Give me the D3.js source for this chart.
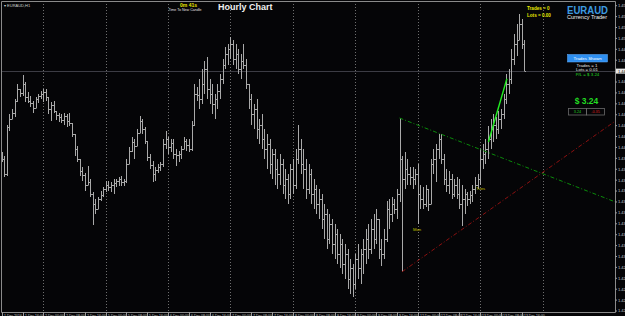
<!DOCTYPE html>
<html>
<head>
<meta charset="utf-8">
<script src="https://cdn.jsdelivr.net/npm/d3@7/dist/d3.min.js"></script>
<style>
html, body { margin: 0; padding: 0; background: #050507; overflow: hidden; }
svg { display: block; }
</style>
</head>
<body>
<div id="chart"></div>
<script>
// EURAUD H1 bars (1 Dec 2016 08:00 onwards)
const highs = [1.4396,1.4392,1.4421,1.4431,1.4435,1.4444,1.4458,1.4454,1.4466,1.4460,
1.4451,1.4447,1.4443,1.4446,1.4449,1.4452,1.4454,1.4454,1.4444,1.4442,
1.4443,1.4433,1.4432,1.4431,1.4432,1.4431,1.4432,1.4422,1.4412,1.4401,
1.4389,1.4382,1.4377,1.4383,1.4371,1.4359,1.4353,1.4355,1.4360,1.4364,
1.4369,1.4369,1.4368,1.4371,1.4371,1.4373,1.4374,1.4371,1.4389,1.4400,
1.4410,1.4408,1.4417,1.4429,1.4426,1.4419,1.4403,1.4394,1.4388,1.4382,
1.4385,1.4387,1.4408,1.4415,1.4410,1.4408,1.4408,1.4399,1.4397,1.4401,
1.4410,1.4408,1.4408,1.4424,1.4458,1.4455,1.4463,1.4472,1.4479,1.4483,
1.4463,1.4458,1.4449,1.4458,1.4467,1.4481,1.4492,1.4495,1.4501,1.4499,
1.4495,1.4490,1.4486,1.4495,1.4481,1.4458,1.4449,1.4440,1.4444,1.4426,
1.4431,1.4417,1.4412,1.4408,1.4399,1.4399,1.4389,1.4394,1.4389,1.4380,
1.4376,1.4385,1.4389,1.4399,1.4421,1.4408,1.4399,1.4389,1.4385,1.4380,
1.4371,1.4366,1.4362,1.4357,1.4348,1.4344,1.4339,1.4334,1.4330,1.4325,
1.4321,1.4316,1.4311,1.4307,1.4298,1.4293,1.4302,1.4311,1.4307,1.4316,
1.4325,1.4330,1.4334,1.4339,1.4344,1.4334,1.4316,1.4325,1.4351,1.4353,
1.4355,1.4353,1.4362,1.4427,1.4392,1.4396,1.4389,1.4382,1.4382,1.4380,
1.4385,1.4366,1.4364,1.4366,1.4362,1.4389,1.4399,1.4403,1.4412,1.4412,
1.4394,1.4380,1.4378,1.4376,1.4371,1.4373,1.4371,1.4366,1.4362,1.4359,
1.4360,1.4366,1.4373,1.4376,1.4399,1.4403,1.4408,1.4420,1.4426,1.4431,
1.4428,1.4433,1.4435,1.4449,1.4467,1.4472,1.4490,1.4504,1.4513,1.4522,
1.4518,1.4499]
const lows = [1.4387,1.4373,1.4374,1.4415,1.4426,1.4428,1.4442,1.4446,1.4447,1.4442,
1.4441,1.4437,1.4432,1.4438,1.4441,1.4444,1.4442,1.4443,1.4431,1.4424,
1.4432,1.4425,1.4423,1.4422,1.4421,1.4419,1.4420,1.4410,1.4392,1.4387,
1.4374,1.4369,1.4360,1.4366,1.4355,1.4329,1.4339,1.4346,1.4351,1.4355,
1.4359,1.4360,1.4359,1.4357,1.4364,1.4365,1.4365,1.4365,1.4367,1.4385,
1.4396,1.4389,1.4401,1.4413,1.4412,1.4403,1.4388,1.4380,1.4368,1.4369,
1.4377,1.4378,1.4382,1.4399,1.4394,1.4396,1.4389,1.4383,1.4387,1.4389,
1.4399,1.4397,1.4396,1.4397,1.4420,1.4443,1.4435,1.4440,1.4449,1.4444,
1.4440,1.4431,1.4426,1.4435,1.4444,1.4458,1.4472,1.4476,1.4481,1.4476,
1.4472,1.4467,1.4463,1.4472,1.4454,1.4435,1.4421,1.4417,1.4408,1.4403,
1.4399,1.4389,1.4380,1.4376,1.4371,1.4366,1.4362,1.4366,1.4357,1.4353,
1.4348,1.4353,1.4357,1.4362,1.4385,1.4376,1.4362,1.4353,1.4357,1.4348,
1.4344,1.4339,1.4334,1.4325,1.4316,1.4307,1.4311,1.4302,1.4298,1.4293,
1.4289,1.4284,1.4279,1.4270,1.4266,1.4263,1.4270,1.4279,1.4275,1.4284,
1.4293,1.4298,1.4302,1.4307,1.4311,1.4298,1.4291,1.4298,1.4313,1.4325,
1.4332,1.4339,1.4334,1.4350,1.4286,1.4362,1.4366,1.4366,1.4362,1.4366,
1.4330,1.4344,1.4344,1.4345,1.4342,1.4353,1.4376,1.4368,1.4389,1.4385,
1.4366,1.4359,1.4357,1.4353,1.4355,1.4353,1.4344,1.4328,1.4339,1.4346,
1.4348,1.4350,1.4357,1.4362,1.4366,1.4380,1.4385,1.4389,1.4399,1.4405,
1.4408,1.4412,1.4417,1.4426,1.4440,1.4449,1.4458,1.4476,1.4484,1.4499,
1.4490,1.4470]
const closes = [1.4389,1.4376,1.4419,1.4426,1.4432,1.4443,1.4454,1.4450,1.4458,1.4446,
1.4443,1.4441,1.4436,1.4444,1.4447,1.4449,1.4451,1.4446,1.4435,1.4439,
1.4433,1.4430,1.4428,1.4425,1.4429,1.4424,1.4422,1.4412,1.4399,1.4389,
1.4378,1.4375,1.4366,1.4368,1.4357,1.4348,1.4344,1.4353,1.4356,1.4362,
1.4366,1.4364,1.4366,1.4367,1.4369,1.4371,1.4368,1.4369,1.4385,1.4397,
1.4405,1.4401,1.4413,1.4424,1.4417,1.4406,1.4391,1.4384,1.4376,1.4379,
1.4382,1.4385,1.4403,1.4408,1.4400,1.4404,1.4394,1.4393,1.4394,1.4399,
1.4406,1.4402,1.4399,1.4421,1.4449,1.4448,1.4444,1.4458,1.4472,1.4454,
1.4449,1.4440,1.4444,1.4452,1.4463,1.4476,1.4486,1.4490,1.4495,1.4481,
1.4486,1.4472,1.4479,1.4476,1.4458,1.4444,1.4431,1.4435,1.4417,1.4421,
1.4408,1.4399,1.4403,1.4385,1.4394,1.4380,1.4376,1.4385,1.4366,1.4371,
1.4357,1.4380,1.4366,1.4389,1.4399,1.4385,1.4380,1.4362,1.4376,1.4357,
1.4362,1.4348,1.4353,1.4334,1.4339,1.4316,1.4330,1.4311,1.4321,1.4302,
1.4311,1.4293,1.4302,1.4279,1.4289,1.4275,1.4298,1.4289,1.4302,1.4307,
1.4316,1.4307,1.4325,1.4316,1.4334,1.4307,1.4302,1.4316,1.4344,1.4339,
1.4348,1.4344,1.4357,1.4389,1.4371,1.4380,1.4376,1.4373,1.4371,1.4376,
1.4357,1.4353,1.4348,1.4362,1.4348,1.4385,1.4389,1.4399,1.4408,1.4389,
1.4371,1.4366,1.4371,1.4357,1.4366,1.4357,1.4348,1.4353,1.4357,1.4353,
1.4356,1.4362,1.4366,1.4371,1.4389,1.4394,1.4399,1.4408,1.4417,1.4421,
1.4417,1.4426,1.4431,1.4444,1.4458,1.4463,1.4481,1.4495,1.4499,1.4513,
1.4495,1.4470]
const opens = [1.4392].concat(closes.slice(0, -1))

const priceTicks = d3.range(0, 29).map(k => 1.4530 - k * 0.0010)
const currentPrice = 1.4470

// trendlines (bar index, price)
const greenTrend = [[153, 1.4427], [208, 1.4376]]
const redTrend = [[154, 1.4286], [208, 1.4377]]
const tradeLine = [[187.2, 1.4405], [194.3, 1.4463]]
const dayMarks = [{ text: 'Mon', i: 158.2, p: 1.4323 }, { text: 'Tues', i: 182.4, p: 1.4361 }]

const width = 625
const height = 316
const plot = { left: 1, top: 1, right: 615, bottom: 312 }

const svg = d3.create('svg')
    .attr('width', width)
    .attr('height', height)
    .attr('viewBox', [0, 0, width, height])
    .style('font-family', 'Liberation Sans, Arial, sans-serif')

svg.append('rect').attr('width', width).attr('height', height).attr('fill', '#050507')

const x = d3.scaleLinear().domain([0, 1]).range([1.7, 4.3])
const y = d3.scaleLinear().domain([1.4250, 1.4530]).range([311, 5.7])
const px = i => Math.round(x(i)) + 0.5
const py = p => Math.round(y(p)) + 0.5

// bar times, weekends skipped
const times = []
let t = new Date(2016, 11, 1, 8)
while (times.length < 230) {
    if (t.getDay() !== 0 && t.getDay() !== 6) times.push(new Date(t))
    t = new Date(t.getTime() + 3600e3)
}

/* grid: one dotted line per day */
const dayStarts = d3.range(1, times.length).filter(i => times[i].getHours() === 0 && x(i) < 560)
svg.append('g').selectAll('line')
    .data(dayStarts)
    .join('line')
    .attr('x1', px).attr('x2', px)
    .attr('y1', plot.top).attr('y2', plot.bottom)
    .attr('stroke', '#6e6e6e')
    .attr('stroke-dasharray', '1,2')

/* current price line */
svg.append('line')
    .attr('x1', plot.left).attr('x2', plot.right)
    .attr('y1', py(currentPrice)).attr('y2', py(currentPrice))
    .attr('stroke', '#3c3c44')

/* OHLC bars */
svg.append('g').selectAll('path')
    .data(closes)
    .join('path')
    .attr('fill', 'none')
    .attr('stroke', '#a9a9a9')
    .attr('stroke-width', 1)
    .attr('d', (c, i) => {
        const xi = px(i)
        const hi = Math.max(highs[i], opens[i], c)
        const lo = Math.min(lows[i], opens[i], c)
        return `M${xi},${Math.round(y(hi))}V${Math.round(y(lo))}M${xi - 1.5},${py(opens[i])}H${xi}M${xi},${py(c)}H${xi + 1.5}`
    })

/* trendlines extended to the price scale */
const extend = (pts) => {
    const [[i0, p0], [i1, p1]] = pts
    const x0 = x(i0), y0 = y(p0)
    const slope = (y(p1) - y0) / (x(i1) - x0)
    return [[x0, y0], [plot.right, y0 + slope * (plot.right - x0)]]
}
svg.append('path')
    .attr('d', d3.line()(extend(greenTrend)))
    .attr('stroke', '#0a8a0a').attr('stroke-width', 1)
    .attr('stroke-dasharray', '4,2,1,2').attr('fill', 'none')
svg.append('path')
    .attr('d', d3.line()(extend(redTrend)))
    .attr('stroke', '#8c1010').attr('stroke-width', 1)
    .attr('stroke-dasharray', '4,2,1,2').attr('fill', 'none')

svg.append('path')
    .attr('d', d3.line()(tradeLine.map(d => [x(d[0]), y(d[1])])))
    .attr('stroke', '#22ee22').attr('stroke-width', 1.4).attr('fill', 'none')

svg.append('g').selectAll('text')
    .data(dayMarks)
    .join('text')
    .attr('x', d => x(d.i)).attr('y', d => y(d.p))
    .attr('fill', '#c8c400').attr('font-size', 4.2)
    .text(d => d.text)

/* frame */
svg.append('path')
    .attr('d', `M${plot.left + 0.5},${plot.bottom + 0.5}V${plot.top + 0.5}H${plot.right + 0.5}V${plot.bottom + 0.5}H${plot.left + 0.5}`)
    .attr('fill', 'none').attr('stroke', '#8a8a8a')

/* price scale */
const ptick = svg.append('g').selectAll('g')
    .data(priceTicks)
    .join('g')
    .attr('transform', p => `translate(${plot.right},${y(p)})`)
ptick.append('line').attr('x1', 0).attr('x2', 2).attr('stroke', '#9a9a9a')
ptick.append('text').attr('x', 3).attr('dy', '0.35em')
    .attr('fill', '#c8c8c8').attr('font-size', 4)
    .text(d3.format('.4f'))

svg.append('rect')
    .attr('x', plot.right + 1).attr('y', y(currentPrice) - 2.5)
    .attr('width', 10).attr('height', 5).attr('fill', '#e8e8e8')
svg.append('text')
    .attr('x', plot.right + 3).attr('y', y(currentPrice)).attr('dy', '0.35em')
    .attr('fill', '#000').attr('font-size', 4)
    .text(d3.format('.4f')(currentPrice))

/* time scale */
const fmtFirst = d3.timeFormat('%-d %b %Y')
const fmt = d3.timeFormat('%-d %b %H:%M')
const labelIdx = d3.range(0, closes.length, 8)
const ttick = svg.append('g').selectAll('g')
    .data(labelIdx)
    .join('g')
    .attr('transform', i => `translate(${px(i)},${plot.bottom})`)
ttick.append('line').attr('y1', 0).attr('y2', 4).attr('stroke', '#9a9a9a')
ttick.append('text').attr('x', 1.5).attr('y', 4.6)
    .attr('fill', '#c8c8c8').attr('font-size', 3.5)
    .text(i => i === 0 ? fmtFirst(times[i]) : fmt(times[i]))

/* header texts */
svg.append('text').attr('x', 4).attr('y', 6.5)
    .attr('fill', '#d0d0d0').attr('font-size', 4)
    .text('▾ EURAUD,H1')

svg.append('text').attr('x', 188.5).attr('y', 7.3).attr('text-anchor', 'middle')
    .attr('fill', '#e8e800').attr('font-size', 5).attr('font-weight', 'bold')
    .text('0m 41s')
svg.append('text').attr('x', 185).attr('y', 10.5).attr('text-anchor', 'middle')
    .attr('fill', '#e0e0e0').attr('font-size', 3.6)
    .text('Time To New Candle')

svg.append('text').attr('x', 218).attr('y', 10.4)
    .attr('fill', '#f0f0f0').attr('font-size', 9).attr('font-weight', 'bold')
    .text('Hourly Chart')

/* account panel */
svg.append('text').attr('x', 527).attr('y', 9.5)
    .attr('fill', '#e8e800').attr('font-size', 4.6).attr('font-weight', 'bold')
    .text('Trades = 0')
svg.append('text').attr('x', 527).attr('y', 16.8)
    .attr('fill', '#e8e800').attr('font-size', 4.6).attr('font-weight', 'bold')
    .text('Lots = 0.00')

svg.append('text').attr('x', 567).attr('y', 13.5)
    .attr('fill', '#3d9be0').attr('font-size', 10.5).attr('font-weight', 'bold')
    .attr('textLength', 41).attr('lengthAdjust', 'spacingAndGlyphs')
    .text('EURAUD')
svg.append('text').attr('x', 567).attr('y', 19)
    .attr('fill', '#f0f0f0').attr('font-size', 5.4)
    .attr('textLength', 40).attr('lengthAdjust', 'spacingAndGlyphs')
    .text('Currency Trader')

svg.append('rect').attr('x', 567.5).attr('y', 54.5).attr('width', 40).attr('height', 7.5)
    .attr('fill', '#2e8ff0').attr('stroke', '#66b0ff').attr('stroke-width', 0.5)
svg.append('text').attr('x', 587.5).attr('y', 60).attr('text-anchor', 'middle')
    .attr('fill', '#ffffff').attr('font-size', 4.4)
    .text('Trades Shown')

svg.append('text').attr('x', 587).attr('y', 66.6).attr('text-anchor', 'middle')
    .attr('fill', '#e8e8e8').attr('font-size', 4.4)
    .text('Trades = 1')
svg.append('text').attr('x', 587).attr('y', 71.2).attr('text-anchor', 'middle')
    .attr('fill', '#e8e8e8').attr('font-size', 4.4)
    .text('Lots = 0.01')
svg.append('text').attr('x', 587.5).attr('y', 75.8).attr('text-anchor', 'middle')
    .attr('fill', '#22dd22').attr('font-size', 4.4)
    .text('P/L = $ 3.24')

svg.append('text').attr('x', 586.5).attr('y', 104).attr('text-anchor', 'middle')
    .attr('fill', '#22dd22').attr('font-size', 8.5).attr('font-weight', 'bold')
    .text('$ 3.24')

svg.append('rect').attr('x', 568.5).attr('y', 108.5).attr('width', 18).attr('height', 6.5)
    .attr('fill', 'none').attr('stroke', '#6a6a6a').attr('stroke-width', 0.8)
svg.append('rect').attr('x', 586.5).attr('y', 108.5).attr('width', 18).attr('height', 6.5)
    .attr('fill', 'none').attr('stroke', '#6a6a6a').attr('stroke-width', 0.8)
svg.append('text').attr('x', 577.5).attr('y', 113.2).attr('text-anchor', 'middle')
    .attr('fill', '#22cc22').attr('font-size', 3.8)
    .text('3.24')
svg.append('text').attr('x', 595.5).attr('y', 113.2).attr('text-anchor', 'middle')
    .attr('fill', '#dd2020').attr('font-size', 3.8)
    .text('-0.35')

document.getElementById('chart').appendChild(svg.node())
</script>
</body>
</html>
